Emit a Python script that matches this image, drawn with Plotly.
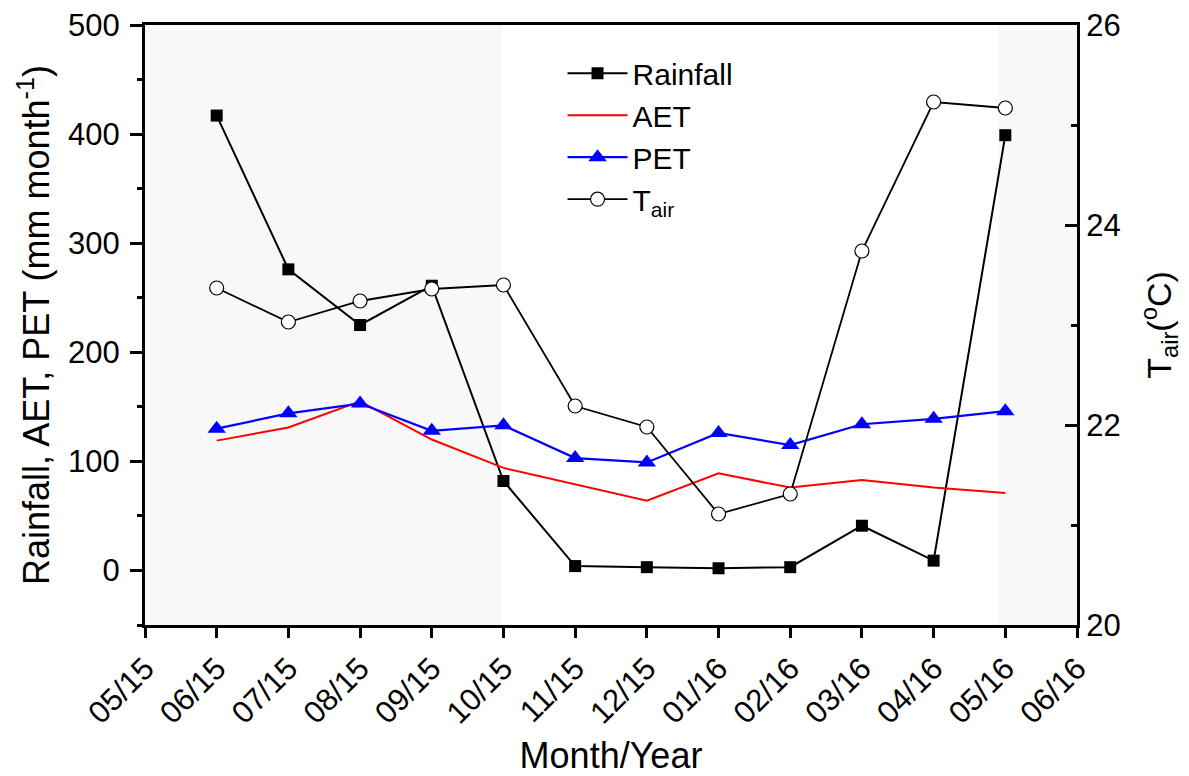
import plotly.graph_objects as go

tick_labels = ["05/15", "06/15", "07/15", "08/15", "09/15", "10/15", "11/15",
               "12/15", "01/16", "02/16", "03/16", "04/16", "05/16", "06/16"]
months = ["06/15", "07/15", "08/15", "09/15", "10/15", "11/15",
          "12/15", "01/16", "02/16", "03/16", "04/16", "05/16"]
rainfall = [417, 276, 225, 261, 82, 4, 3, 2, 3, 41, 9, 399]
aet = [119, 131, 155, 120, 94, 79, 64, 89, 76, 83, 76, 71]
pet = [130, 144, 153, 128, 133, 103, 99, 126, 115, 134, 139, 146]
tair = [23.37, 23.03, 23.24, 23.36, 23.40, 22.19, 21.98, 21.11, 21.31, 23.74, 25.23, 25.17]

xpos = [tick_labels.index(m) for m in months]

FONT = "Liberation Sans, Arial, sans-serif"

fig = go.Figure()
fig.add_trace(go.Scatter(x=xpos, y=rainfall, name="Rainfall", mode="lines+markers",
                         line=dict(color="black", width=2),
                         marker=dict(symbol="square", size=12, color="black")))
fig.add_trace(go.Scatter(x=xpos, y=aet, name="AET", mode="lines",
                         line=dict(color="red", width=2)))
fig.add_trace(go.Scatter(x=xpos, y=pet, name="PET", mode="lines+markers",
                         line=dict(color="blue", width=2.2),
                         marker=dict(symbol="triangle-up", size=16, color="blue")))
fig.add_trace(go.Scatter(x=xpos, y=tair, name="T<sub>air</sub>", mode="lines+markers",
                         yaxis="y2",
                         line=dict(color="black", width=1.8),
                         marker=dict(symbol="circle", size=14, color="white",
                                     line=dict(color="black", width=1.2))))

shade = "rgba(248,248,248,1)"
fig.add_shape(type="rect", xref="x", yref="paper", x0=0, x1=4.97, y0=0, y1=1,
              fillcolor=shade, line=dict(width=0), layer="below")
fig.add_shape(type="rect", xref="x", yref="paper", x0=11.9, x1=13, y0=0, y1=1,
              fillcolor=shade, line=dict(width=0), layer="below")

fig.update_layout(
    width=1181, height=768,
    margin=dict(l=137, r=112, t=17, b=151),
    paper_bgcolor="white", plot_bgcolor="white",
    font=dict(family=FONT, size=31, color="black"),
    showlegend=True,
    legend=dict(x=0.448, y=0.963, xanchor="left", yanchor="top",
                bgcolor="rgba(0,0,0,0)", font=dict(size=30), tracegroupgap=0,
                itemwidth=60),
    xaxis=dict(range=[0, 13], tickmode="array", tickvals=list(range(14)),
               ticktext=tick_labels, tickangle=-45, automargin=False,
               ticklabeloverflow="allow",
               showgrid=False, zeroline=False,
               showline=True, linecolor="black", linewidth=3, mirror=True,
               ticks="outside", ticklen=10, tickwidth=3, tickcolor="black",
               tickfont=dict(size=31),
               title=dict(text="Month/Year", font=dict(size=36), standoff=15)),
    yaxis=dict(range=[-50, 500], tick0=0, dtick=100, automargin=False,
               ticklabeloverflow="allow", ticklabelstandoff=4,
               showgrid=False, zeroline=False,
               showline=True, linecolor="black", linewidth=3,
               ticks="outside", ticklen=12, tickwidth=3, tickcolor="black",
               tickfont=dict(size=31),
               minor=dict(dtick=50, ticks="outside", ticklen=5, tickwidth=3,
                          tickcolor="black", showgrid=False),
               title=dict(text="Rainfall, AET, PET (mm month<sup>-1</sup>)",
                          font=dict(size=36), standoff=8)),
    yaxis2=dict(range=[20, 26], tick0=20, dtick=2, overlaying="y", side="right",
                automargin=False, ticklabeloverflow="allow",
                showgrid=False, zeroline=False,
                showline=True, linecolor="black", linewidth=3,
                ticks="inside", ticklen=12, tickwidth=3, tickcolor="black",
                tickfont=dict(size=31),
                minor=dict(dtick=1, ticks="inside", ticklen=6, tickwidth=3,
                           tickcolor="black", showgrid=False),
                title=dict(text="T<sub>air</sub>(<sup>o</sup>C)",
                           font=dict(size=34), standoff=28)),
)

fig.write_html("out.html")
